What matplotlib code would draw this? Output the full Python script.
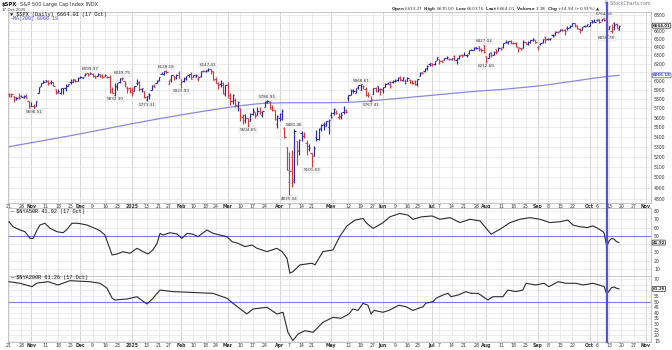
import numpy as np
import pandas as pd
import matplotlib
matplotlib.use("Agg")
import matplotlib.pyplot as plt
from matplotlib.lines import Line2D
from matplotlib.ticker import FixedLocator, NullLocator
from matplotlib.transforms import blended_transform_factory

# ---------------- data ----------------
start_date = "2024-10-21"
holidays = ["2024-11-28", "2024-12-25", "2025-01-01", "2025-01-09", "2025-01-20",
            "2025-02-17", "2025-04-18", "2025-05-26", "2025-06-19", "2025-07-04",
            "2025-09-01"]

opens = [
    5857.8, 5832.7, 5834.5, 5817.8, 5826.8, 5833.9, 5819.7, 5832.6, 5775.3,
    5723.2, 5725.2, 5722.4, 5863.0, 5947.2, 5976.8, 6008.9, 6003.6, 5985.7, 5989.6, 5912.8, 5874.2, 5863.0, 5919.2, 5925.1, 5944.4, 5992.3, 5992.3, 6014.1, 6003.9,
    6040.1, 6041.0, 6069.4, 6089.3, 6081.4, 6083.0, 6057.6, 6060.2, 6074.3, 6068.2, 6063.8, 6052.6, 6047.7, 5912.7, 5842.0, 5940.3, 5984.7, 6024.9, 6006.2, 5920.7, 5919.7,
    5903.3, 5891.1, 5982.8, 5993.3, 5910.7, 5890.0, 5788.7, 5859.7, 5905.2, 5953.9, 5978.1, 6014.1, 6081.4, 6076.3, 6121.4, 5969.0, 6026.0, 6057.7, 6050.8, 6096.8,
    5969.7, 5998.1, 6020.5, 6072.2, 6083.1, 6046.4, 6049.3, 6025.1, 6060.6, 6115.5, 6121.6, 6117.8, 6134.5, 6114.1, 6026.7, 5982.7, 5970.9, 5981.9, 5856.7,
    5968.3, 5811.9, 5781.4, 5785.9, 5726.0, 5705.4, 5603.7, 5624.8, 5594.5, 5563.9, 5635.6, 5654.5, 5632.4, 5646.9, 5630.7, 5718.1, 5775.9, 5771.7, 5695.6, 5679.1, 5527.9,
    5597.5, 5580.8, 5492.7, 5292.1, 4953.8, 5193.6, 4965.3, 5353.2, 5255.6, 5441.9, 5411.0, 5335.8, 5305.5, 5232.9, 5207.7, 5395.9, 5381.4, 5489.7, 5529.2, 5508.9, 5499.4,
    5625.1, 5645.0, 5655.3, 5606.6, 5614.8, 5663.3, 5679.7, 5807.1, 5846.5, 5895.7, 5869.3, 5929.1, 5902.9, 5944.7, 5910.9, 5841.3, 5781.9, 5854.1, 5925.5, 5939.9, 5903.7,
    5896.7, 5938.6, 5978.9, 5985.7, 5987.1, 6004.6, 6009.9, 6049.4, 6009.9, 6000.6, 6004.0, 6012.2, 5987.9, 6004.2, 5969.7, 6061.2, 6104.2, 6112.1, 6150.7, 6193.4,
    6187.3, 6191.9, 6246.5, 6259.8, 6235.5, 6245.9, 6266.7, 6255.7, 6255.2, 6295.7, 6249.8, 6263.1, 6307.4, 6304.7, 6306.6, 6327.6, 6368.6, 6370.0, 6397.7, 6409.3, 6373.4, 6427.0,
    6287.3, 6271.7, 6336.1, 6309.5, 6374.3, 6357.1, 6389.7, 6397.7, 6460.2, 6453.4, 6478.9, 6445.0, 6445.9, 6404.8, 6388.6, 6386.2, 6457.7, 6435.0, 6457.5, 6483.3, 6488.6,
    6401.5, 6434.4, 6456.7, 6521.0, 6498.5, 6498.6, 6547.4, 6549.0, 6590.5, 6596.3, 6622.0, 6606.8, 6635.3, 6647.6, 6660.3, 6692.5, 6669.1, 6620.8, 6615.6, 6661.6, 6658.4,
    6664.5, 6731.3, 6722.1, 6735.0, 6746.1, 6732.7, 6760.0, 6740.0, 6618.9, 6603.0, 6697.0, 6689.6, 6613.27,
]
highs = [
    5866.9, 5863.0, 5834.9, 5817.8, 5862.8, 5842.9, 5847.2, 5850.9, 5775.3,
    5772.5, 5741.4, 5783.4, 5936.1, 5983.8, 6012.5, 6017.3, 6009.9, 6008.2, 5993.9, 5915.3, 5909.0, 5920.7, 5920.7, 5963.1, 5972.9, 6020.8, 6025.4, 6020.2, 6044.2,
    6053.6, 6052.1, 6089.8, 6092.1, 6100.0, 6088.5, 6065.4, 6092.6, 6079.7, 6078.6, 6085.2, 6057.7, 6070.7, 5935.5, 5982.1, 5978.3, 6040.1, 6049.8, 6006.2, 5940.8, 5929.7,
    5935.1, 5949.3, 6021.0, 6000.7, 5927.9, 5890.0, 5836.5, 5871.9, 5960.6, 5964.7, 6008.0, 6051.5, 6100.8, 6118.8, 6128.2, 6017.2, 6069.1, 6062.8, 6086.6, 6120.9,
    6022.1, 6042.5, 6062.9, 6084.0, 6101.3, 6073.4, 6076.3, 6063.0, 6116.9, 6127.5, 6129.6, 6147.4, 6134.5, 6114.8, 6043.7, 5992.7, 6009.8, 5993.7, 5959.4,
    5986.1, 5865.1, 5860.6, 5812.1, 5783.0, 5705.4, 5636.3, 5642.2, 5597.8, 5645.3, 5703.5, 5654.5, 5715.3, 5711.2, 5670.8, 5775.1, 5787.0, 5783.6, 5732.3, 5685.9, 5627.1,
    5650.6, 5695.3, 5499.5, 5292.1, 5246.6, 5267.5, 5481.5, 5353.2, 5381.5, 5459.5, 5450.4, 5367.2, 5328.3, 5232.9, 5309.6, 5469.7, 5489.4, 5528.1, 5553.7, 5565.8, 5581.8,
    5658.9, 5700.7, 5683.3, 5649.4, 5654.9, 5720.1, 5691.0, 5844.2, 5906.6, 5906.9, 5924.8, 5958.6, 5968.6, 5953.1, 5938.4, 5878.1, 5829.5, 5924.3, 5929.0, 5943.1, 5922.1,
    5937.4, 5981.4, 5990.5, 5999.7, 6016.9, 6021.3, 6043.0, 6059.4, 6045.4, 6026.2, 6050.8, 6023.3, 6018.2, 6018.2, 6028.7, 6101.8, 6108.5, 6146.5, 6187.7, 6215.1,
    6210.8, 6227.6, 6284.7, 6262.3, 6242.7, 6269.1, 6290.2, 6269.4, 6272.3, 6302.0, 6265.6, 6301.3, 6315.6, 6336.1, 6316.1, 6360.6, 6381.3, 6395.8, 6401.1, 6409.8, 6394.0, 6427.0,
    6288.4, 6330.0, 6343.9, 6352.8, 6379.4, 6395.2, 6401.1, 6446.5, 6480.3, 6473.8, 6481.3, 6455.3, 6456.6, 6404.8, 6393.9, 6481.3, 6466.9, 6468.0, 6486.7, 6508.2, 6489.4,
    6416.5, 6453.9, 6502.5, 6532.7, 6508.7, 6513.4, 6555.9, 6592.9, 6600.2, 6617.2, 6627.0, 6623.6, 6656.4, 6671.8, 6695.2, 6692.9, 6676.6, 6633.6, 6649.6, 6671.9, 6689.0,
    6715.2, 6731.9, 6750.9, 6749.5, 6749.3, 6753.8, 6764.6, 6746.9, 6661.6, 6680.9, 6705.7, 6698.6, 6670.0,
]
lows = [
    5824.8, 5821.2, 5762.4, 5784.9, 5799.0, 5823.1, 5814.6, 5811.3, 5703.4,
    5723.2, 5696.5, 5722.1, 5863.0, 5947.2, 5976.8, 5986.7, 5960.1, 5965.9, 5942.3, 5853.0, 5865.9, 5860.1, 5860.1, 5883.5, 5944.4, 5963.9, 5992.3, 5984.9, 6003.9,
    6035.3, 6031.1, 6061.1, 6061.5, 6079.0, 6048.6, 6029.9, 6060.2, 6051.3, 6035.8, 6059.1, 6035.2, 5867.8, 5866.1, 5832.3, 5902.6, 5981.4, 6007.4, 5932.9, 5869.2, 5868.9,
    5829.5, 5888.7, 5960.0, 5890.7, 5874.8, 5809.2, 5773.3, 5805.8, 5905.2, 5934.8, 5978.1, 6006.9, 6076.2, 6074.7, 6088.7, 5962.9, 5994.3, 6012.9, 6027.5, 6030.9,
    5923.9, 5990.9, 6007.1, 6046.8, 6020.0, 6044.8, 6042.3, 6003.0, 6051.0, 6107.6, 6099.5, 6111.2, 6084.6, 6008.6, 5977.8, 5908.5, 5932.7, 5858.8, 5837.7,
    5810.9, 5732.6, 5742.4, 5711.6, 5666.3, 5564.0, 5528.4, 5546.1, 5504.7, 5563.9, 5631.1, 5597.8, 5622.2, 5641.7, 5603.1, 5718.1, 5755.7, 5695.7, 5670.9, 5572.4, 5488.7,
    5558.5, 5571.5, 5390.8, 5069.9, 4835.0, 4910.4, 4950.0, 5115.3, 5220.8, 5358.0, 5386.4, 5220.8, 5255.6, 5101.6, 5207.7, 5356.6, 5371.9, 5455.9, 5468.6, 5506.4, 5433.2,
    5597.4, 5631.0, 5637.0, 5590.1, 5585.8, 5635.1, 5644.9, 5775.5, 5843.3, 5868.3, 5867.4, 5907.4, 5895.7, 5909.3, 5830.9, 5825.8, 5767.4, 5854.1, 5874.6, 5873.8, 5843.7,
    5861.4, 5929.0, 5966.1, 5921.2, 5978.6, 5994.2, 6000.3, 6002.3, 6003.9, 5963.2, 6004.0, 5974.8, 5971.9, 5952.6, 5943.2, 6059.1, 6080.1, 6107.8, 6132.4, 6178.0,
    6178.0, 6188.3, 6246.5, 6201.5, 6217.1, 6245.9, 6251.0, 6244.7, 6242.8, 6241.8, 6201.6, 6256.7, 6285.1, 6303.8, 6281.7, 6317.5, 6360.6, 6368.5, 6375.5, 6354.7, 6338.6, 6327.5,
    6212.7, 6271.7, 6282.0, 6301.0, 6316.2, 6355.3, 6362.9, 6385.8, 6445.0, 6441.1, 6441.6, 6437.6, 6400.2, 6343.9, 6360.9, 6385.8, 6438.1, 6430.4, 6452.9, 6470.8, 6443.8,
    6360.6, 6424.1, 6445.2, 6443.3, 6483.0, 6487.0, 6516.8, 6545.8, 6573.6, 6591.0, 6601.8, 6551.5, 6614.7, 6634.5, 6656.6, 6642.2, 6620.5, 6574.1, 6603.6, 6645.0, 6656.6,
    6659.6, 6693.9, 6705.7, 6721.9, 6698.7, 6727.4, 6721.7, 6550.8, 6617.1, 6569.2, 6615.2, 6617.2, 6603.76,
]
closes = [
    5853.98, 5851.20, 5797.42, 5809.86, 5808.12, 5823.52, 5832.92, 5813.67, 5705.45,
    5728.80, 5712.69, 5782.76, 5929.04, 5973.10, 5995.54, 6001.35, 5983.99, 5985.38, 5949.17, 5870.62, 5893.62, 5916.98, 5917.11, 5948.71, 5969.34, 5987.37, 6021.63, 5998.74, 6032.38,
    6047.15, 6049.88, 6086.49, 6075.11, 6090.27, 6052.85, 6034.91, 6084.19, 6051.25, 6051.09, 6074.08, 6050.61, 5872.16, 5867.08, 5930.85, 5974.07, 6040.04, 6037.59, 5970.84, 5906.94, 5881.63,
    5868.55, 5942.47, 5975.38, 5909.03, 5918.25, 5827.04, 5836.22, 5842.91, 5949.91, 5937.34, 5996.66, 6049.24, 6086.37, 6118.71, 6101.24, 6012.28, 6067.70, 6039.31, 6071.17, 6040.53,
    5994.57, 6037.88, 6061.48, 6083.57, 6025.99, 6066.44, 6068.50, 6051.97, 6115.07, 6114.63, 6129.58, 6144.15, 6117.52, 6013.13, 5983.25, 5955.25, 5956.06, 5861.57, 5954.50,
    5849.72, 5778.15, 5842.63, 5738.52, 5770.20, 5614.56, 5572.07, 5599.30, 5521.52, 5638.94, 5675.12, 5614.66, 5675.29, 5662.89, 5667.56, 5767.57, 5776.65, 5712.20, 5693.31, 5580.94, 5611.85,
    5633.07, 5670.97, 5396.52, 5074.08, 5062.25, 4982.77, 5456.90, 5268.05, 5363.36, 5405.97, 5396.63, 5275.70, 5282.70, 5158.20, 5287.76, 5375.86, 5484.77, 5525.21, 5528.75, 5560.83, 5569.06,
    5604.14, 5686.67, 5650.38, 5606.91, 5631.28, 5663.94, 5659.91, 5844.19, 5886.55, 5892.58, 5916.93, 5958.38, 5963.60, 5940.46, 5844.61, 5842.01, 5802.82, 5921.54, 5888.55, 5912.17, 5911.69,
    5935.94, 5970.37, 5970.81, 5939.30, 6000.36, 6005.88, 6038.81, 6022.24, 6045.26, 5976.97, 6033.11, 5982.72, 5980.87, 5967.84, 6025.17, 6092.18, 6092.16, 6141.02, 6173.07, 6204.95,
    6198.01, 6227.42, 6279.35, 6229.98, 6225.52, 6263.26, 6280.46, 6259.75, 6268.56, 6243.76, 6263.70, 6297.36, 6296.79, 6305.60, 6309.62, 6358.91, 6363.35, 6388.64, 6389.77, 6370.86, 6362.90, 6339.39,
    6238.01, 6329.94, 6299.19, 6345.06, 6340.00, 6389.45, 6373.45, 6445.76, 6466.58, 6468.54, 6449.80, 6449.15, 6411.37, 6395.78, 6370.17, 6466.91, 6439.32, 6465.94, 6481.40, 6501.86, 6460.26,
    6415.54, 6448.26, 6502.08, 6481.50, 6495.15, 6512.61, 6532.04, 6587.47, 6584.29, 6615.28, 6606.76, 6600.35, 6631.96, 6664.36, 6693.75, 6656.92, 6637.97, 6604.72, 6643.70, 6661.21, 6688.46,
    6711.20, 6715.35, 6715.79, 6740.28, 6714.59, 6753.72, 6735.11, 6552.51, 6654.72, 6644.31, 6671.06, 6629.07, 6664.01,
]

# 200-day moving average, read weekly (bar number since 21 Oct 2024)
ma_bar = [0, 5, 10, 15, 20, 25, 30, 35, 40, 45, 50, 55, 60, 65, 70, 75, 80, 85, 90, 95, 100,
          105, 110, 115, 120, 125, 130, 135, 140, 145, 150, 155, 160, 165, 170, 175, 180, 185,
          190, 195, 200, 205, 210, 215, 220, 225, 230, 235, 240, 245, 248]
ma_vals = [5300, 5322, 5344, 5366, 5389, 5411, 5435, 5460, 5485, 5510, 5535, 5559, 5583, 5606,
           5628, 5650, 5671, 5692, 5712, 5730, 5745, 5755, 5758, 5760, 5760, 5760, 5760, 5762,
           5766, 5775, 5787, 5799, 5811, 5824, 5836, 5849, 5862, 5874, 5886, 5896, 5905, 5918,
           5931, 5945, 5962, 5982, 6002, 6022, 6042, 6058, 6066.18]

# $NYA50R (bar number, percent)
nya50_bar = [0, 1.6, 4.5, 6.5, 8.5, 9.8, 11.4, 12.6, 14.6, 16.7, 19.5, 22, 23.6, 25.6, 28, 31.7,
             35, 37, 39, 40.2, 41.9, 43.9, 46.3, 49.2, 52, 54.5, 56.5, 58.5, 60.2, 61.4, 62.6,
             65.4, 68.3, 70.3, 72.4, 74.8, 76.8, 80.5, 82.9, 85.8, 88.6, 90.7, 93.1, 95.9, 98.8,
             100.8, 104.9, 108.9, 111, 113, 114.2, 115.4, 118.3, 123.2, 124.4, 127.6, 131.7,
             134.6, 137.4, 140.7, 143.9, 145.5, 148, 151.6, 154.9, 158.9, 162.2, 164.2, 167.9,
             172, 175.2, 179.3, 183.3, 187.4, 191.5, 196, 199.6, 203.7, 207.7, 211.8, 215.9,
             219.9, 224, 227.2, 229.3, 232.1, 235, 237.4, 239.4, 241.5, 242, 243, 244, 245, 246,
             247, 248]
nya50_vals = [67.1, 61, 57.1, 55, 47, 47, 57, 63, 65.2, 59, 55, 53.8, 58, 65.2, 65.2, 63.1,
              59, 56.2, 51, 41, 27, 28.1, 30.9, 29, 35, 31, 28.1, 33, 41, 53, 51,
              53.8, 52.3, 47, 53, 52, 49, 57.1, 53, 51, 49, 43, 41, 37, 39,
              35, 31, 35, 31, 23, 5, 6.8, 15, 17, 15, 31, 33,
              50, 62, 69, 71, 65, 59, 65, 73, 77, 75, 70, 73,
              74, 70, 72, 66, 70, 68, 52, 58, 66, 70, 72, 70,
              66, 67, 69, 63, 61, 60, 62, 59, 55, 53, 37, 44, 47, 46,
              43, 41.92]

# $NYA200R (bar number, percent)
nya200_bar = [0, 4.5, 9.3, 11.4, 15.9, 19.9, 24.8, 32.9, 37, 39.8, 41.9, 43.1, 48, 52, 56.1,
              58.5, 61.4, 66.7, 77.6, 82.9, 88.6, 91.1, 96.7, 99.2, 104.9, 108.9, 111.4, 113.4,
              115.4, 117.5, 120.3, 123.6, 127.6, 131.7, 135, 138.2, 139.8, 141.9, 143.9, 145.9,
              147.2, 148.4, 152, 154.5, 158.5, 161.4, 164.2, 168.3, 169.5, 172.4, 173.6, 176.4,
              178.5, 179.7, 182.5, 185.8, 187.8, 190.7, 194.7, 196.7, 200.8, 202.8, 206.1, 208.9,
              210.2, 214.2, 217.5, 219.5, 223.2, 226.4, 230.5, 233.3, 237.4, 239.8, 242, 243,
              244, 245, 246, 247, 248]
nya200_vals = [67.6, 66.2, 63.2, 66.4, 67.6, 64.7, 68.5, 67.6, 66.2, 62, 53.1, 51.4, 52.3, 54.3,
               47.8, 52.9, 60.2, 58.8, 57.8, 57.3, 52.9, 48.4, 39, 43.4, 44.9, 39, 40.5, 22.7,
               15.4, 21.2, 24.2, 22.7, 31.6, 36, 35.2, 39, 43.4, 42.2, 48.4, 46.8,
               39, 42.2, 40.5, 42.2, 46.8, 45.4, 42.2, 45.4, 48.6, 49.9, 52.9, 55.8,
               57.3, 54.3, 55.8, 58.8, 57.3, 57.3, 51.4, 54.3, 54.3, 60.2, 58.8, 60.2,
               66.2, 64.7, 66.2, 63.2, 67.6, 66.2, 66.2, 64.7, 66.2, 64.7, 63.2, 56.5,
               59.5, 62.5, 62.8, 61.8, 61.26]

tick_dates = ["2024-10-21", "2024-10-28", "2024-11-01", "2024-11-11", "2024-11-18", "2024-11-25",
              "2024-12-02", "2024-12-09", "2024-12-16", "2024-12-23", "2025-01-02", "2025-01-13",
              "2025-01-21", "2025-01-27", "2025-02-03", "2025-02-10", "2025-02-18", "2025-02-24",
              "2025-03-03", "2025-03-10", "2025-03-17", "2025-03-24", "2025-04-01", "2025-04-07",
              "2025-04-14", "2025-04-21", "2025-05-01", "2025-05-12", "2025-05-19", "2025-05-27",
              "2025-06-02", "2025-06-09", "2025-06-16", "2025-06-23", "2025-07-01", "2025-07-07",
              "2025-07-14", "2025-07-21", "2025-07-28", "2025-08-01", "2025-08-11", "2025-08-18",
              "2025-08-25", "2025-09-02", "2025-09-08", "2025-09-15", "2025-09-22", "2025-10-01",
              "2025-10-06", "2025-10-13", "2025-10-20", "2025-10-27", "2025-11-03"]
tick_labels = ["21", "28", "Nov", "11", "18", "25", "Dec", "9", "16", "23", "2025", "13", "21",
               "27", "Feb", "10", "18", "24", "Mar", "10", "17", "24", "Apr", "7", "14", "21",
               "May", "12", "19", "27", "Jun", "9", "16", "23", "Jul", "7", "14", "21", "28",
               "Aug", "11", "18", "25", "Sep", "8", "15", "22", "Oct", "6", "13", "20", "27", "Nov"]
month_labels = {"Nov", "Dec", "2025", "Feb", "Mar", "Apr", "May", "Jun", "Jul", "Aug", "Sep", "Oct"}

price_ticks = list(range(4800, 6900, 100))
nya50_ticks = [10, 20, 30, 40, 50, 60, 70, 80]
nya200_ticks = [15, 20, 25, 30, 35, 40, 45, 50, 55, 60, 65, 70]

annotations = [("2024-11-04", "5696.51", "low"), ("2024-12-06", "6099.97", "high"),
               ("2024-12-20", "5832.30", "low"), ("2024-12-26", "6049.75", "high"),
               ("2025-01-13", "5773.31", "low"), ("2025-01-24", "6128.18", "high"),
               ("2025-02-03", "5923.93", "low"), ("2025-02-19", "6147.43", "high"),
               ("2025-03-13", "5504.65", "low"), ("2025-03-25", "5786.95", "high"),
               ("2025-04-07", "4835.04", "low"), ("2025-04-09", "5481.46", "high"),
               ("2025-04-21", "5101.63", "low"), ("2025-05-19", "5968.61", "high"),
               ("2025-05-23", "5767.41", "low"), ("2025-07-31", "6427.02", "high"),
               ("2025-08-01", "6212.69", "low"), ("2025-10-09", "6764.58", "high"),
               ("2025-10-10", "6550.78", "low")]
marker_date = "2025-10-10"

# ---------------- styling ----------------
UP = "#2a2aa8"
DOWN = "#d23b3b"
MA_C = "#8a8ada"
HL50 = "#7c7cd8"
VLINE = "#5050f0"
GRID = "#e4e4e4"
GRID_M = "#c6c6c6"
TXT = "#333333"
FS = 3.3
BOX_FS = 2.8

W, H = 672, 350
fig = plt.figure(figsize=(W / 100, H / 100), dpi=100)
fig.patch.set_facecolor("white")


def rect(x0, y0, x1, y1):
    return [x0 / W, 1 - y1 / H, (x1 - x0) / W, (y1 - y0) / H]


def fxy(x, y):
    return x / W, 1 - y / H


LX, RX = 8, 651
ax1 = fig.add_axes(rect(LX, 11.5, RX, 203))
ax2 = fig.add_axes(rect(LX, 207.5, RX, 275.5))
ax3 = fig.add_axes(rect(LX, 275.5, RX, 341.5))

cal = pd.bdate_range(start_date, "2025-11-14")
cal = cal[~cal.isin(pd.to_datetime(holidays))]


def bar_of(d):
    return int(cal.get_loc(pd.Timestamp(d)))


n = len(closes)
xs = np.arange(n)
XMIN, XMAX = -0.41, 261.0
for ax in (ax1, ax2, ax3):
    ax.set_xlim(XMIN, XMAX)
    ax.set_facecolor("white")
    for sp in ax.spines.values():
        sp.set_color("#b0b0b0")
        sp.set_linewidth(0.5)

# date grid
tick_pos = [bar_of(d) for d in tick_dates]
for ax in (ax1, ax2, ax3):
    for p, lab in zip(tick_pos, tick_labels):
        ax.axvline(p, color=GRID_M if lab in month_labels else GRID, lw=0.5, zorder=0)
for ax in (ax1, ax3):
    ax.set_xticks(tick_pos)
    ax.set_xticklabels(tick_labels, fontsize=FS, color=TXT)
    ax.tick_params(axis="x", length=0, pad=1.0)
    for t in ax.get_xticklabels():
        if t.get_text() in month_labels:
            t.set_fontweight("bold")
ax2.set_xticks([])

# ---------------- price panel ----------------
ax1.set_yscale("log")
ax1.set_ylim(4763.8, 6845.2)
for v in price_ticks:
    ax1.axhline(v, color=GRID, lw=0.5, zorder=0)

prev = [opens[0]] + closes[:-1]
cols = [UP if c >= p else DOWN for c, p in zip(closes, prev)]
ax1.vlines(xs, lows, highs, colors=cols, lw=0.85, zorder=3)
ax1.hlines(opens, xs - 0.5, xs, colors=cols, lw=0.85, zorder=3)
ax1.hlines(closes, xs, xs + 0.5, colors=cols, lw=0.85, zorder=3)
ax1.plot(ma_bar, ma_vals, color=MA_C, lw=0.9, zorder=2)

for d, txt, kind in annotations:
    i = bar_of(d)
    hi = kind == "high"
    ax1.annotate(txt, (i, highs[i] if hi else lows[i]), xytext=(0, 1.0 if hi else -1.0),
                 textcoords="offset points", ha="center", va="bottom" if hi else "top",
                 fontsize=3.0, color=TXT, zorder=5,
                 bbox=dict(boxstyle="square,pad=0.12", fc="#f7f7f7", ec="#d8d8d8", lw=0.3),
                 annotation_clip=False)

# ---------------- breadth panels ----------------
ax2.set_ylim(2.2, 84.2)
for v in nya50_ticks:
    ax2.axhline(v, color=GRID, lw=0.5, zorder=0)
ax2.axhline(50, color=HL50, lw=0.8, zorder=1)
ax2.plot(nya50_bar, nya50_vals, color="#2b2b2b", lw=0.8, zorder=3)

ax3.set_ylim(14.6, 73.1)
for v in nya200_ticks:
    ax3.axhline(v, color=GRID, lw=0.5, zorder=0)
ax3.axhline(50, color=HL50, lw=0.8, zorder=1)
ax3.plot(nya200_bar, nya200_vals, color="#2b2b2b", lw=0.8, zorder=3)


def set_right_ticks(ax, ticks, box_values):
    """Right-side tick labels; labels hidden behind a value box are dropped."""
    ax.yaxis.set_major_locator(FixedLocator(ticks))
    ax.yaxis.set_minor_locator(NullLocator())
    tr = ax.transData
    labels = []
    for t in ticks:
        ty = tr.transform((0, t))[1]
        hidden = any(abs(ty - tr.transform((0, b))[1]) < 4.5 for b in box_values)
        labels.append("" if hidden else str(t))
    ax.set_yticklabels(labels)
    ax.yaxis.tick_right()
    ax.tick_params(axis="y", length=0, pad=2.2, labelsize=FS, colors=TXT)


set_right_ticks(ax1, price_ticks, [closes[-1], ma_vals[-1]])
set_right_ticks(ax2, nya50_ticks, [nya50_vals[-1]])
set_right_ticks(ax3, nya200_ticks, [nya200_vals[-1]])


# right-edge value boxes
def value_box(ax, y, txt, color):
    tr = blended_transform_factory(ax.transAxes, ax.transData)
    ax.text(1.0025, y, txt, transform=tr, ha="left", va="center", fontsize=BOX_FS,
            color=color, fontweight="bold", zorder=6, clip_on=False,
            bbox=dict(boxstyle="round,pad=0.12,rounding_size=0.25", fc="white", ec=color, lw=0.5))


value_box(ax1, closes[-1], f"{closes[-1]:.2f}", "#222222")
value_box(ax1, ma_vals[-1], f"{ma_vals[-1]:.2f}", "#4a4ac8")
value_box(ax2, nya50_vals[-1], f"{nya50_vals[-1]:.2f}", "#222222")
value_box(ax3, nya200_vals[-1], f"{nya200_vals[-1]:.2f}", "#222222")

# vertical marker line across all panels
mb = bar_of(marker_date)
trv = blended_transform_factory(ax1.transData, fig.transFigure)
fig.add_artist(Line2D([mb, mb], [1 - 342 / H, 1 - 3 / H], transform=trv, color=VLINE, lw=1.6, zorder=10))

# ---------------- texts ----------------
fig.text(*fxy(2, 4.6), "$SPX", fontsize=3.8, fontweight="bold", color="#111", va="center", ha="left")
fig.text(*fxy(20.5, 4.8), "S&P 500 Large Cap Index INDX", fontsize=3.6, color=TXT, va="center", ha="left")
fig.text(*fxy(2, 9.6), "17-Oct-2025", fontsize=2.8, color=TXT, va="center", ha="left")
fig.text(*fxy(10, 14.8), "\u25bc $SPX (Daily) 6664.01 (17 Oct)", fontsize=3.8, family="Liberation Mono",
         color="#111", va="center", ha="left")
fig.text(*fxy(10, 18.8), "\u2014MA(200) 6066.18", fontsize=3.6, family="Liberation Mono",
         color="#4a4ac8", va="center", ha="left")
fig.text(*fxy(651, 3.5), "\u00a9 StockCharts.com", fontsize=3.4, color="#777", va="center", ha="right")
header = (r"$\bf{Open}$ 6613.27  $\bf{High}$ 6670.00  $\bf{Low}$ 6603.76  $\bf{Last}$ 6664.01  "
          r"$\bf{Volume}$ 3.1B  $\bf{Chg}$ +34.94 (+0.53%) " + "\u25b2")
fig.text(*fxy(391, 9.2), header, fontsize=3.0, color=TXT, va="center", ha="left")
fig.text(*fxy(10, 211.4), "\u2014 $NYA50R 41.92 (17 Oct)", fontsize=3.8, family="Liberation Mono",
         color="#111", va="center", ha="left")
fig.text(*fxy(10, 277.8), "\u2014 $NYA200R 61.26 (17 Oct)", fontsize=3.8, family="Liberation Mono",
         color="#111", va="center", ha="left")

fig.savefig("out.png", dpi=100, facecolor="white")
